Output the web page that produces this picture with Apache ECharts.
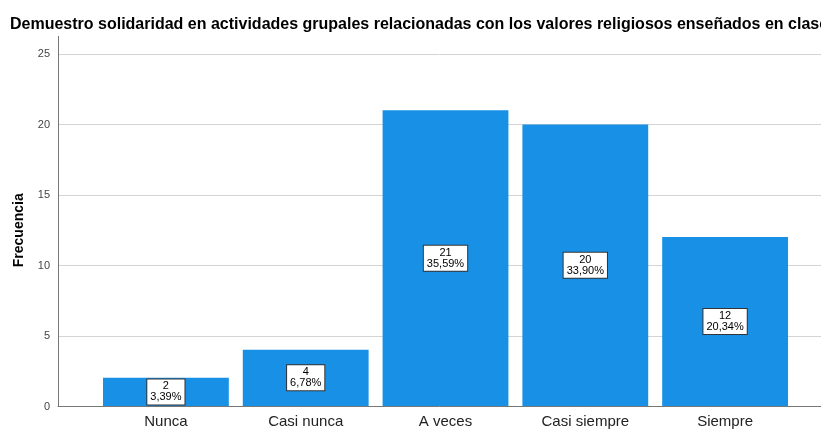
<!DOCTYPE html>
<html>
<head>
<meta charset="utf-8">
<script src="https://cdn.jsdelivr.net/npm/echarts@6/dist/echarts.min.js"></script>
<style>
  html, body { margin: 0; padding: 0; background: #fff; }
  #chart { width: 821px; height: 429px; }
</style>
</head>
<body>
<div id="chart"></div>
<script>
var categorias = ['Nunca', 'Casi nunca', 'A veces', 'Casi siempre', 'Siempre'];
var frecuencias = [2, 4, 21, 20, 12];
var porcentajes = ['3,39%', '6,78%', '35,59%', '33,90%', '20,34%'];
var ticksY = [0, 5, 10, 15, 20, 25];

var chart = echarts.init(document.getElementById('chart'));

var option = {
    animation: false,
    textStyle: { fontFamily: 'Liberation Sans, Arial, sans-serif' },
    title: {
        text: 'Demuestro solidaridad en actividades grupales relacionadas con los valores religiosos enseñados en clase',
        left: 5,
        top: 12,
        textStyle: { fontSize: 16, fontWeight: 'bold', color: '#000' }
    },
    grid: [
        { left: 58, right: 0, top: 54, bottom: 22.5 },
        { left: 96, right: 26, top: 54, bottom: 22.5 }
    ],
    xAxis: [
        {
            gridIndex: 0,
            type: 'category',
            data: [''],
            axisLine: { show: true, lineStyle: { color: '#777', width: 1 } },
            axisTick: { show: false },
            axisLabel: { show: false }
        },
        {
            gridIndex: 1,
            type: 'category',
            data: categorias,
            axisLine: { show: false },
            axisTick: { show: false },
            axisLabel: { fontSize: 15, color: '#222', margin: 8 }
        }
    ],
    yAxis: [
        {
            gridIndex: 0,
            type: 'value',
            min: ticksY[0],
            max: ticksY[ticksY.length - 1],
            interval: 5,
            name: 'Frecuencia',
            nameLocation: 'middle',
            nameGap: 32,
            nameTextStyle: { fontSize: 14, fontWeight: 'bold', color: '#000' },
            axisLine: { show: true, lineStyle: { color: '#777', width: 1 } },
            axisTick: { show: false },
            axisLabel: { fontSize: 11, color: '#444', margin: 8 },
            splitLine: { lineStyle: { color: '#d4d4d4', width: 1 } }
        },
        {
            gridIndex: 1,
            type: 'value',
            min: ticksY[0],
            max: ticksY[ticksY.length - 1],
            show: false,
            splitLine: { show: false }
        }
    ],
    graphic: [
        {
            type: 'line',
            shape: { x1: 58.5, y1: 36, x2: 58.5, y2: 54 },
            style: { stroke: '#777', lineWidth: 1 }
        }
    ],
    series: [
        {
            type: 'bar',
            xAxisIndex: 1,
            yAxisIndex: 1,
            data: frecuencias,
            barCategoryGap: '10%',
            itemStyle: { color: '#1790e5' },
            label: {
                show: true,
                position: 'inside',
                formatter: function (p) {
                    return p.value + '\n' + porcentajes[p.dataIndex];
                },
                fontSize: 11,
                lineHeight: 11,
                color: '#000',
                align: 'center',
                backgroundColor: '#fff',
                borderColor: '#333',
                borderWidth: 1,
                padding: [2, 3, 1, 3]
            }
        }
    ]
};

chart.setOption(option);
</script>
</body>
</html>
